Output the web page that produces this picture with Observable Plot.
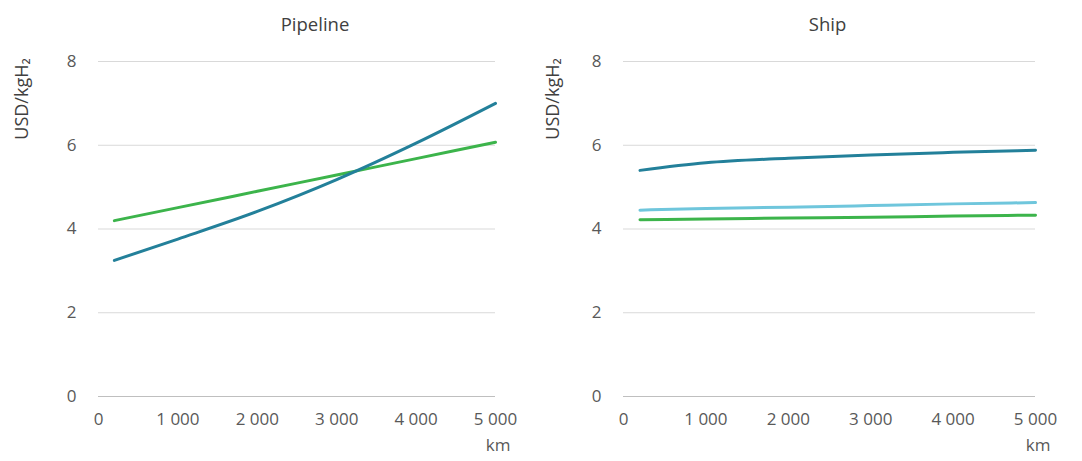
<!DOCTYPE html>
<html>
<head>
<meta charset="utf-8">
<script src="https://cdn.jsdelivr.net/npm/d3@7"></script>
<script src="https://cdn.jsdelivr.net/npm/@observablehq/plot@0.6"></script>
<style>
  body { margin: 0; background: #fff; }
  #wrap { display: flex; width: 1082px; height: 461px; }
  svg { font-family: "Open Sans", sans-serif; }
</style>
</head>
<body>
<div id="wrap"></div>
<script>
// Data
const km = [200, 1000, 2000, 3000, 4000, 5000];
const pipelineTeal = [3.25, 3.76, 4.42, 5.18, 6.05, 7.0];
const pipelineGreen = [4.2, 4.51, 4.9, 5.29, 5.68, 6.07];
const shipTeal = [5.4, 5.58, 5.69, 5.77, 5.83, 5.88];
const shipLight = [4.45, 4.49, 4.52, 4.56, 4.6, 4.63];
const shipGreen = [4.22, 4.24, 4.26, 4.28, 4.31, 4.33];
const yTicks = [0, 2, 4, 6, 8];
const xTicks = [0, 1000, 2000, 3000, 4000, 5000];
const yLabel = "USD/kgH₂";
const xLabel = "km";

const colors = { teal: "#23809a", green: "#3cb44b", light: "#6fc6dc" };

function rows(vals) { return km.map((k, i) => ({ km: k, v: vals[i] })); }
const fmt = d => d === 0 ? "0" : d3.format(",")(d).replace(/,/g, " ");

function panel({ title, series, marginLeft, marginRight, titleDx, ylabDx }) {
  return Plot.plot({
    width: 541,
    height: 461,
    marginLeft, marginRight,
    marginTop: 61,
    marginBottom: 65,
    style: { fontFamily: "Open Sans, sans-serif", fontSize: "17px", color: "#595959", background: "#fff" },
    x: { domain: [0, 5000], ticks: xTicks, tickFormat: fmt, tickSize: 0, tickPadding: 16, label: null },
    y: { domain: [0, 8], ticks: yTicks, tickSize: 0, tickPadding: 22, label: null },
    marks: [
      Plot.ruleY(yTicks.filter(d => d > 0), { stroke: "#d9d9d9", strokeWidth: 1 }),
      Plot.ruleY([0], { stroke: "#bfbfbf", strokeWidth: 1.2 }),
      ...series.map(s => Plot.line(rows(s.vals), { x: "km", y: "v", stroke: s.color, strokeWidth: 3, curve: "monotone-x" })),
      Plot.text([title], { frameAnchor: "top", dx: titleDx, dy: -36, fontSize: 18.5, fill: "#404040", lineAnchor: "middle", textAnchor: "middle" }),
      Plot.text([xLabel], { frameAnchor: "bottom-right", dx: 15, dy: 49, textAnchor: "end", fontSize: 17, fill: "#595959", lineAnchor: "middle" }),
      Plot.text([yLabel], { frameAnchor: "left", rotate: -90, dx: ylabDx, dy: -130, textAnchor: "middle", fontSize: 18, fill: "#404040", lineAnchor: "middle" })
    ]
  });
}

const left = panel({
  title: "Pipeline",
  series: [
    { vals: pipelineGreen, color: colors.green },
    { vals: pipelineTeal, color: colors.teal }
  ],
  marginLeft: 98, marginRight: 46, titleDx: 18, ylabDx: -76
});
const right = panel({
  title: "Ship",
  series: [
    { vals: shipGreen, color: colors.green },
    { vals: shipLight, color: colors.light },
    { vals: shipTeal, color: colors.teal }
  ],
  marginLeft: 82, marginRight: 47, titleDx: -2, ylabDx: -70
});
document.getElementById("wrap").append(left, right);
</script>
</body>
</html>
